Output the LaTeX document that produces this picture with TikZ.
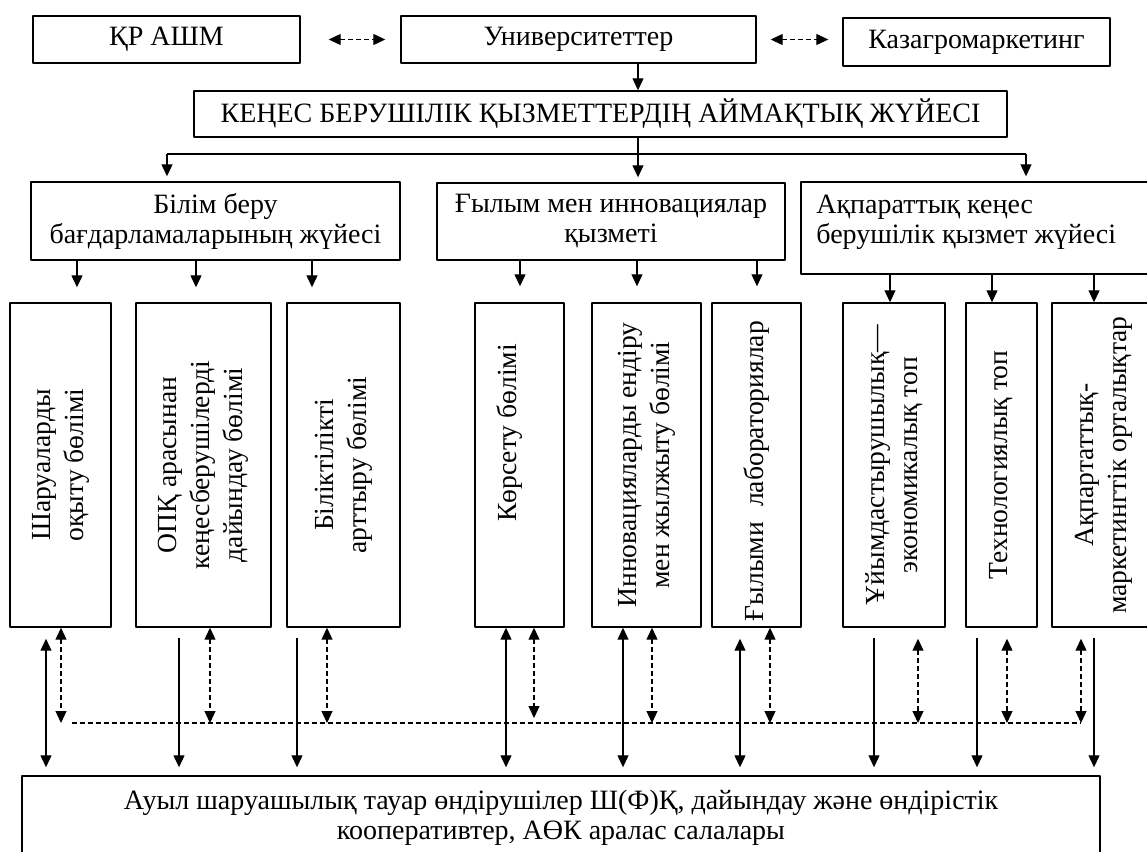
\documentclass[tikz,border=0pt]{standalone}
\usepackage{fontspec}
\setmainfont{Liberation Serif}
\usetikzlibrary{arrows.meta}
\tikzset{
  box/.style={draw, line width=0.7pt, inner sep=0pt},
  vtext/.style={rotate=90, align=center, font=\fontsize{13.8}{16.5}\selectfont},
  link/.style={line width=0.6pt},
  dlink/.style={line width=0.6pt, dash pattern=on 2.4pt off 1.6pt}
}
\begin{document}
\begin{tikzpicture}[x=0.5pt, y=-0.5pt, >={Triangle[length=6pt,width=5.5pt]}, font=\fontsize{14}{15}\selectfont, line join=round]
\path[use as bounding box, clip] (0,0) rectangle (1147,852);
% top row
\node[box, minimum width=133.5pt, minimum height=23.5pt] (krash) at (166.5,39.5) {ҚР АШМ};
\node[box, minimum width=177.5pt, minimum height=23.5pt] (univ) at (578.5,39.5) {Университеттер};
\node[box, minimum width=133.5pt, minimum height=24pt] (kazagro) at (976.5,42) {Казагромаркетинг};
\node[box, minimum width=406.5pt, minimum height=23pt] (kenes) at (600.5,114) {КЕҢЕС БЕРУШІЛІК ҚЫЗМЕТТЕРДІҢ АЙМАҚТЫҚ ЖҮЙЕСІ};
% second row
\node[box, align=center, minimum width=184.5pt, minimum height=39pt] (bilim) at (215.5,221) {Білім беру\\бағдарламаларының жүйесі};
\node[box, align=center, minimum width=174pt, minimum height=38.5pt] (gylym) at (611,221.5) {Ғылым мен инновациялар\\қызметі};
\node[box, minimum width=177pt, minimum height=46pt] (akparat) at (978,228) {};
\node[align=left, anchor=west, inner sep=0pt] (akparat-t) at (816,222) {Ақпараттық кеңес\\берушілік қызмет жүйесі};
% lower boxes
\foreach \n/\x/\w in {shar/60.5/50.5, opk/203.5/67.5, bilik/343.5/56.5, korsetu/519.5/44.5, innov/646.5/54.5, lab/756.5/44.5, uiym/894/51, tech/1001.5/35.5, akpcen/1103.5/51.5}
  \node[box, minimum width=\w pt, minimum height=162pt] (\n) at (\x,465) {};
\node[vtext] (shar-t) at (shar) {Шаруаларды\\оқыту бөлімі};
\node[vtext] (opk-t) at (opk) {ОПҚ арасынан\\кеңесберушілерді\\дайындау бөлімі};
\node[vtext] (bilik-t) at (bilik) {Біліктілікті\\арттыру бөлімі};
\node[vtext] (korsetu-t) at ([xshift=-4.75pt,yshift=16pt]korsetu.center) {Көрсету бөлімі};
\node[vtext] (innov-t) at (innov) {Инновацияларды ендіру\\мен жылжыту бөлімі};
\node[vtext] (lab-t) at ([yshift=-3pt]lab.center) {Ғылыми\hspace{0.55em}лабораториялар};
\node[vtext] (uiym-t) at (uiym) {Ұйымдастырушылық—\\экономикалық топ};
\node[vtext] (tech-t) at (tech) {Технологиялық топ};
\node[vtext] (akpcen-t) at (akpcen) {Ақпартаттық-\\маркетингтік орталықтар};
% bottom box
\node[box, align=center, minimum width=539pt, minimum height=42pt] (base) at (561,818) {Ауыл шаруашылық тауар өндірушілер Ш(Ф)Қ, дайындау және өндірістік\\кооперативтер, АӨК аралас салалары};
% links at the top
\draw[dlink,<->] ([xshift=14pt]krash.east) -- ([xshift=-7.5pt]univ.west);
\draw[dlink,<->] ([xshift=7pt]univ.east) -- ([xshift=-7pt]univ.east -| kazagro.west);
\coordinate (mid) at (638,0);
\draw[link,->] (univ.south -| mid) -- (kenes.north -| mid);
\draw[link,->,shorten >=2.5pt] (kenes.south -| mid) -- (gylym.north -| mid);
\coordinate (bl) at (167,154);
\coordinate (br) at (1026,154);
\draw[link] (bl) -- (br);
\draw[link,->,shorten >=2.5pt] (bl) -- (bilim.north -| bl);
\draw[link,->,shorten >=2.5pt] (br) -- (akparat.north -| br);
% into the lower boxes
\foreach \a/\b/\x/\g in {bilim/shar/77/7.5, bilim/opk/196/7.5, bilim/bilik/312/7.5, gylym/korsetu/520/8, gylym/innov/637/8, gylym/lab/757/8, akparat/uiym/890/0, akparat/tech/992/0, akparat/akpcen/1094/0}
{
  \coordinate (x) at (\x,0);
  \draw[link,->,shorten >=\g pt] (\a.south -| x) -- (\b.north -| x);
}
% solid links to the bottom box
\foreach \b/\x/\g in {shar/46/5.5, korsetu/506/0, innov/623/0, lab/740/5.5}
{
  \coordinate (x) at (\x,0);
  \draw[link,<->,shorten <=\g pt,shorten >=4pt] (\b.south -| x) -- (base.north -| x);
}
\foreach \b/\x in {opk/179, bilik/297, uiym/874, tech/977, akpcen/1094}
{
  \coordinate (x) at (\x,0);
  \draw[link,->,shorten <=5pt,shorten >=4pt] (\b.south -| x) -- (base.north -| x);
}
% dashed links
\coordinate (dl) at (72,723);
\coordinate (dr) at (1081,723);
\draw[dlink] (dl) -- (dr);
\foreach \b/\x/\g/\e in {shar/61/0/0, opk/210/0/0, bilik/327/0/0, korsetu/534/0/2.5, innov/652/0/0, lab/770/0/0, uiym/918/5.5/0, tech/1007/5.5/0, akpcen/1081/5.5/0}
{
  \coordinate (x) at (\x,723);
  \draw[dlink,<->,shorten <=\g pt,shorten >=\e pt] (\b.south -| x) -- (x);
}
\end{tikzpicture}
\end{document}
